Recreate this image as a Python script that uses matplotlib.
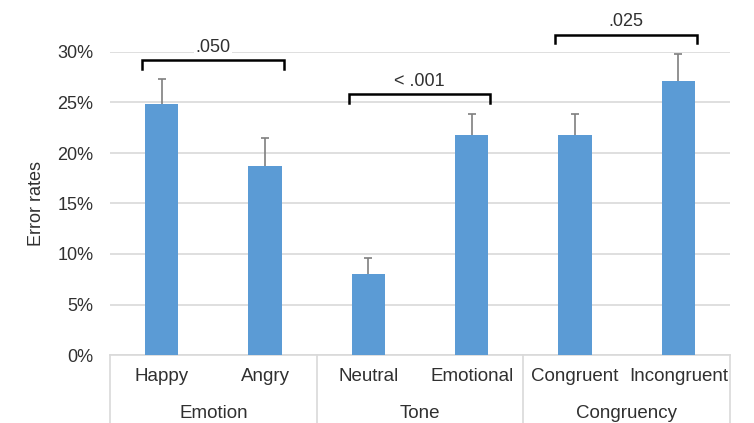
import matplotlib
matplotlib.use("Agg")
import matplotlib.pyplot as plt
from matplotlib.ticker import FuncFormatter

categories = ["Happy", "Angry", "Neutral", "Emotional", "Congruent", "Incongruent"]
values = [24.9, 18.7, 8.0, 21.8, 21.8, 27.1]
errors = [2.4, 2.75, 1.65, 2.1, 2.1, 2.7]
groups = ["Emotion", "Tone", "Congruency"]
comparisons = [(0, 1), (2, 3), (4, 5)]
p_labels = [".050", "< .001", ".025"]

plt.rcParams['font.family'] = ['Liberation Sans', 'DejaVu Sans']
text_color = '#303030'
grid_color = '#d9d9d9'
bar_color = '#5b9bd5'

fig = plt.figure(figsize=(7.54, 4.23), dpi=100)
ax = fig.add_axes([110/754, (423-355)/423, 620/754, (355-52)/423])

x = list(range(len(categories)))
ax.bar(x, values, width=0.32, color=bar_color, zorder=3)
eb = ax.errorbar(x, values, yerr=[[0]*len(errors), errors], fmt='none',
                 ecolor='#7f7f7f', elinewidth=1.2, capsize=3, capthick=1.2, zorder=2)
# keep only the upper caps
caps = eb[1]
if len(caps) == 2:
    caps[0].remove()

ax.set_xlim(-0.5, len(categories) - 0.5)
ax.set_ylim(0, 30)
ax.set_yticks(range(0, 31, 5))
ax.yaxis.set_major_formatter(FuncFormatter(lambda v, p: f"{int(v)}%"))
ax.grid(axis='y', color=grid_color, linewidth=1.2, zorder=0)
for s in ['top', 'right', 'left']:
    ax.spines[s].set_visible(False)
ax.spines['bottom'].set_color(grid_color)
ax.spines['bottom'].set_linewidth(1.2)
ax.tick_params(axis='y', length=0, pad=12, labelsize=13, labelcolor=text_color)
ax.tick_params(axis='x', length=0, pad=9, labelsize=13.5, labelcolor=text_color)
ax.set_xticks(x)
ax.set_xticklabels(categories)
ax.set_ylabel("Error rates", fontsize=13, color=text_color, labelpad=9)

# Group axis lines
trans = ax.get_xaxis_transform()
for b in [-0.5, 1.5, 3.5, 5.5]:
    ax.plot([b, b], [0, -0.23], transform=trans, color=grid_color, lw=1.2, clip_on=False)
for i, g in enumerate(groups):
    ax.text(2*i + 0.5, -0.193, g, transform=trans, ha='center', va='center',
            fontsize=13.5, color=text_color)

# Significance brackets
hw = 0.16
for (a, b), lab in zip(comparisons, p_labels):
    top = max(values[a] + errors[a], values[b] + errors[b]) + 1.9
    x0, x1 = a - hw - 0.03, b + hw + 0.02
    ax.plot([x0, x0, x1, x1], [top - 0.85, top, top, top - 0.85], color='black',
            lw=1.8, clip_on=False, zorder=5, solid_joinstyle='miter')
    ax.text((x0 + x1) / 2, top + 0.45, lab, ha='center', va='bottom', fontsize=13,
            color=text_color, zorder=5,
            bbox=dict(facecolor='white', edgecolor='none', pad=1))

fig.savefig("out.png", dpi=100)
